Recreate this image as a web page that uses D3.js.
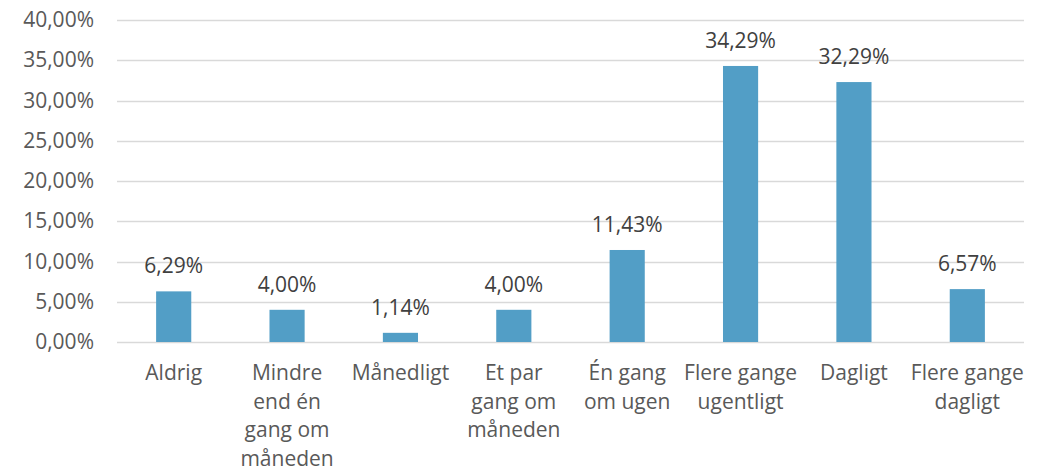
<!DOCTYPE html>
<html>
<head>
<meta charset="utf-8">
<style>
  body { margin: 0; background: #fff; font-family: "Open Sans", sans-serif; }
  .axis text { fill: #595959; }
</style>
</head>
<body>
<script src="https://d3js.org/d3.v7.min.js"></script>
<script>

// data
var categories = ["Aldrig", "Mindre\nend én\ngang om\nmåneden", "Månedligt", "Et par\ngang om\nmåneden",
                  "Én gang\nom ugen", "Flere gange\nugentligt", "Dagligt", "Flere gange\ndagligt"];
var values = [6.29, 4.00, 1.14, 4.00, 11.43, 34.29, 32.29, 6.57];
var yTicks = [0, 5, 10, 15, 20, 25, 30, 35, 40];

var totalWidth = 1048, totalHeight = 472;
var margin = {top: 20, right: 24, bottom: 130, left: 117};
var width = totalWidth - margin.left - margin.right;
var height = totalHeight - margin.top - margin.bottom;

var fmt = function(v) { return v.toFixed(2).replace(".", ",") + "%"; };

var scaleX = d3.scaleBand()
  .domain(categories)
  .range([0, width])
  .paddingInner(0.69)
  .paddingOuter(0.345);

var scaleY = d3.scaleLinear()
  .domain([0, 40])
  .range([height, 0]);

var svg = d3.select("body").append("svg")
  .attr("width", totalWidth)
  .attr("height", totalHeight);

var chart = svg.append("g")
  .attr("transform", "translate(" + margin.left + "," + margin.top + ")");

// gridlines
chart.append("g")
  .selectAll("line")
  .data(yTicks)
  .enter().append("line")
  .attr("x1", 0)
  .attr("x2", width)
  .attr("y1", function(d) { return Math.round(scaleY(d)) + 0.5; })
  .attr("y2", function(d) { return Math.round(scaleY(d)) + 0.5; })
  .style("stroke", "#d9d9d9")
  .style("stroke-width", 1.3);

// y axis labels
var yAxis = d3.axisLeft(scaleY).tickValues(yTicks).tickSize(0).tickPadding(23)
  .tickFormat(function(d) { return fmt(d); });

chart.append("g")
  .attr("class", "axis")
  .call(yAxis)
  .call(function(g) { g.select(".domain").remove(); })
  .selectAll("text")
  .style("font-size", "21px")
  .style("font-family", "Open Sans");

// bars
chart.selectAll(".bar")
  .data(values)
  .enter().append("rect")
  .attr("class", "bar")
  .attr("x", function(d, i) { return scaleX(categories[i]); })
  .attr("width", scaleX.bandwidth())
  .attr("y", function(d) { return scaleY(d); })
  .attr("height", function(d) { return height - scaleY(d); })
  .style("fill", "#529ec6");

// value labels
chart.selectAll(".val")
  .data(values)
  .enter().append("text")
  .attr("class", "val")
  .attr("x", function(d, i) { return scaleX(categories[i]) + scaleX.bandwidth() / 2; })
  .attr("y", function(d) { return scaleY(d) - 18; })
  .attr("text-anchor", "middle")
  .style("font-size", "21px")
  .style("fill", "#404040")
  .text(function(d) { return fmt(d); });

// category labels
var cat = chart.append("g").attr("class", "axis");
categories.forEach(function(c) {
  var t = cat.append("text")
    .attr("text-anchor", "middle")
    .attr("x", scaleX(c) + scaleX.bandwidth() / 2)
    .attr("y", height + 38)
    .style("font-size", "21px");
  c.split("\n").forEach(function(line, j) {
    t.append("tspan")
      .attr("x", scaleX(c) + scaleX.bandwidth() / 2)
      .attr("dy", j === 0 ? 0 : 28.5)
      .text(line);
  });
});

</script>
</body>
</html>
